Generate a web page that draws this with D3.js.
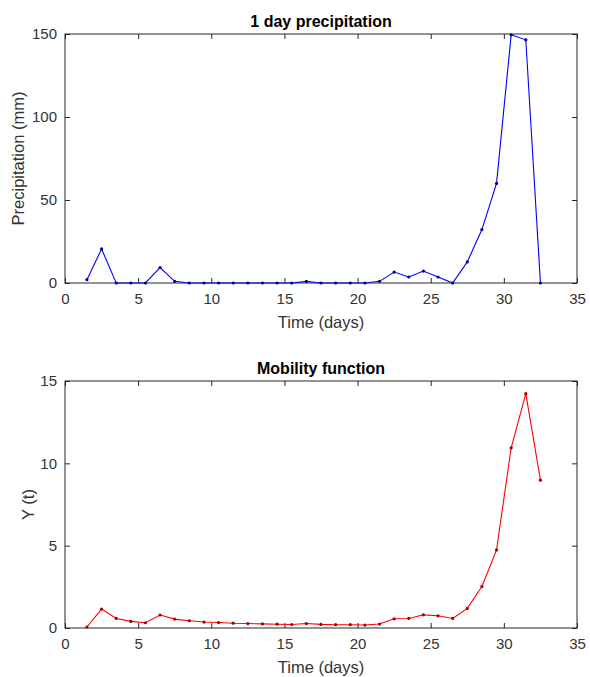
<!DOCTYPE html>
<html>
<head>
<meta charset="utf-8">
<title>Precipitation and mobility</title>
<script src="https://d3js.org/d3.v7.min.js"></script>
<style>
  body { margin: 0; background: #fff; }
  svg text { font-family: "Liberation Sans", Arial, sans-serif; }
</style>
</head>
<body>
<div id="chart"></div>
<script>
// days (centre of each day)
var days = [1.5, 2.5, 3.5, 4.5, 5.5, 6.5, 7.5, 8.5, 9.5, 10.5, 11.5, 12.5, 13.5, 14.5, 15.5, 16.5,
            17.5, 18.5, 19.5, 20.5, 21.5, 22.5, 23.5, 24.5, 25.5, 26.5, 27.5, 28.5, 29.5, 30.5, 31.5, 32.5];
// 1 day precipitation (mm)
var precip = [2, 20.5, 0, 0, 0, 9.3, 1, 0, 0, 0, 0, 0, 0, 0, 0, 1,
              0, 0, 0, 0, 1, 6.6, 3.6, 7.2, 3.6, 0, 12.7, 32.2, 60, 149.5, 146.5, 0];
// mobility function Y(t)
var mobility = [0.06, 1.15, 0.58, 0.4, 0.32, 0.79, 0.54, 0.44, 0.36, 0.33, 0.29, 0.27, 0.25, 0.23, 0.21, 0.27,
                0.22, 0.2, 0.2, 0.18, 0.24, 0.56, 0.58, 0.8, 0.74, 0.58, 1.19, 2.52, 4.74, 10.94, 14.23, 8.98];
var xTicks = [0, 5, 10, 15, 20, 25, 30, 35];
var precipTicks = [0, 50, 100, 150];
var mobilityTicks = [0, 5, 10, 15];

var W = 590, H = 677;
var svg = d3.select("#chart").append("svg")
    .attr("width", W).attr("height", H);

function panel(opts) {
    var left = 65, right = 577, top = opts.top, bottom = opts.bottom;
    var x = d3.scaleLinear().domain([0, 35]).range([left, right]);
    var y = d3.scaleLinear().domain(opts.yDomain).range([bottom, top]);
    var g = svg.append("g");
    var tickLen = 5;

    g.append("rect")
        .attr("x", left).attr("y", top)
        .attr("width", right - left).attr("height", bottom - top)
        .attr("fill", "#fff");

    // bottom axis, ticks pointing inward
    g.append("g")
        .attr("transform", "translate(0," + bottom + ")")
        .call(d3.axisBottom(x).tickValues(xTicks).tickSize(-tickLen).tickPadding(10).tickFormat(d3.format("d")))
        .call(function(a) { a.select(".domain").remove(); });
    // top ticks
    g.append("g")
        .attr("transform", "translate(0," + top + ")")
        .call(d3.axisTop(x).tickValues(xTicks).tickSize(-tickLen).tickFormat(""))
        .call(function(a) { a.select(".domain").remove(); });
    // left axis
    g.append("g")
        .attr("transform", "translate(" + left + ",0)")
        .call(d3.axisLeft(y).tickValues(opts.yTicks).tickSize(-tickLen).tickPadding(8).tickFormat(d3.format("d")))
        .call(function(a) { a.select(".domain").remove(); });
    // right ticks
    g.append("g")
        .attr("transform", "translate(" + right + ",0)")
        .call(d3.axisRight(y).tickValues(opts.yTicks).tickSize(-tickLen).tickFormat(""))
        .call(function(a) { a.select(".domain").remove(); });

    g.selectAll(".tick line").attr("stroke", "#262626");
    g.selectAll(".tick text")
        .attr("fill", "#333")
        .style("font-size", "15px");

    // box
    g.append("rect")
        .attr("x", left).attr("y", top)
        .attr("width", right - left).attr("height", bottom - top)
        .attr("fill", "none").attr("stroke", "#262626").attr("stroke-width", 1);

    // series
    var line = d3.line()
        .x(function(d, i) { return x(days[i]); })
        .y(function(d) { return y(d); });
    g.append("path")
        .datum(opts.values)
        .attr("d", line)
        .attr("fill", "none")
        .attr("stroke", opts.color)
        .attr("stroke-width", 1.1);
    g.selectAll(".dot")
        .data(opts.values)
        .enter().append("circle")
        .attr("cx", function(d, i) { return x(days[i]); })
        .attr("cy", function(d) { return y(d); })
        .attr("r", 1.6)
        .attr("fill", opts.dotColor);

    // title
    g.append("text")
        .attr("x", (left + right) / 2).attr("y", top - 7)
        .attr("text-anchor", "middle")
        .style("font-size", "16px").style("font-weight", "bold")
        .attr("fill", "#000")
        .text(opts.title);
    // x label
    g.append("text")
        .attr("x", (left + right) / 2).attr("y", bottom + 45)
        .attr("text-anchor", "middle")
        .style("font-size", "16.5px")
        .attr("fill", "#333")
        .text("Time (days)");
    // y label
    g.append("text")
        .attr("transform", "translate(" + opts.yLabelX + "," + (top + bottom) / 2 + ") rotate(-90)")
        .attr("text-anchor", "middle")
        .style("font-size", "16.5px")
        .attr("fill", "#333")
        .text(opts.yLabel);
}

panel({
    top: 34, bottom: 283, yDomain: [0, 150], yTicks: precipTicks,
    values: precip, color: "#0000ff", dotColor: "#00008b",
    title: "1 day precipitation", yLabel: "Precipitation (mm)", yLabelX: 24
});
panel({
    top: 381, bottom: 628, yDomain: [0, 15], yTicks: mobilityTicks,
    values: mobility, color: "#ff0000", dotColor: "#a00000",
    title: "Mobility function", yLabel: "Y (t)", yLabelX: 34
});
</script>
</body>
</html>
